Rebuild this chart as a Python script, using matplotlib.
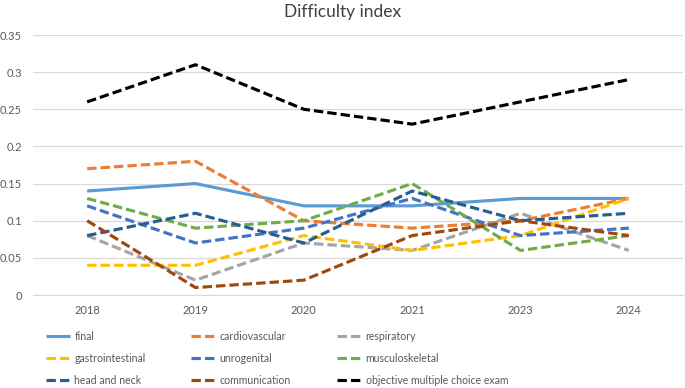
import matplotlib
matplotlib.use("Agg")
import matplotlib.pyplot as plt

years = ["2018", "2019", "2020", "2021", "2023", "2024"]
final = [0.14, 0.15, 0.12, 0.12, 0.13, 0.13]
cardiovascular = [0.17, 0.18, 0.10, 0.09, 0.10, 0.13]
respiratory = [0.08, 0.02, 0.07, 0.06, 0.11, 0.06]
gastrointestinal = [0.04, 0.04, 0.08, 0.06, 0.08, 0.13]
unrogenital = [0.12, 0.07, 0.09, 0.13, 0.08, 0.09]
musculoskeletal = [0.13, 0.09, 0.10, 0.15, 0.06, 0.08]
head_and_neck = [0.08, 0.11, 0.07, 0.14, 0.10, 0.11]
communication = [0.10, 0.01, 0.02, 0.08, 0.10, 0.08]
objective_mcq = [0.26, 0.31, 0.25, 0.23, 0.26, 0.29]

series = [
    ("final", final, "#5B9BD5", "solid"),
    ("cardiovascular", cardiovascular, "#ED7D31", "dash"),
    ("respiratory", respiratory, "#A5A5A5", "dash"),
    ("gastrointestinal", gastrointestinal, "#FFC000", "dash"),
    ("unrogenital", unrogenital, "#4472C4", "dash"),
    ("musculoskeletal", musculoskeletal, "#70AD47", "dash"),
    ("head and neck", head_and_neck, "#255E91", "dash"),
    ("communication", communication, "#9E480E", "dash"),
    ("objective multiple choice exam", objective_mcq, "#000000", "dash"),
]

plt.rcParams['font.family'] = ['Lato', 'DejaVu Sans']

fig = plt.figure(figsize=(6.85, 3.88), dpi=100)
ax = fig.add_axes([33/685, 1-295/388, 650/685, 260/388])

x = list(range(len(years)))
handles = []
for name, vals, col, style in series:
    if style == "solid":
        ln, = ax.plot(x, vals, color=col, lw=2.25, solid_capstyle='butt', label=name)
    else:
        ln, = ax.plot(x, vals, color=col, lw=2.25, dashes=(3, 1.3), dash_capstyle='butt', label=name)
    handles.append(ln)

ax.set_xlim(-0.5, len(years)-0.5)
ax.set_ylim(0, 0.35)
ax.set_yticks([0, 0.05, 0.1, 0.15, 0.2, 0.25, 0.3, 0.35])
ax.set_yticklabels(["0", "0.05", "0.1", "0.15", "0.2", "0.25", "0.3", "0.35"])
ax.set_xticks(x)
ax.set_xticklabels(years)
ax.grid(axis='y', color='#D9D9D9', lw=0.9)
ax.set_axisbelow(True)
for s in ['top', 'right', 'left']:
    ax.spines[s].set_visible(False)
ax.spines['bottom'].set_color('#D9D9D9')
ax.tick_params(axis='both', length=0, labelsize=8, colors='#595959')
ax.tick_params(axis='y', pad=8)
ax.tick_params(axis='x', pad=7)

fig.text(343/685, 1-12/388, "Difficulty index", ha='center', va='center', fontsize=12.5,
         color='#404040')

# three legend columns, entries laid out row-wise as in the reference
col_x = [46, 191, 337]
for c in range(3):
    idx = [c, c + 3, c + 6]
    leg = fig.legend([handles[i] for i in idx], [series[i][0] for i in idx],
                     ncol=1, loc='upper left', bbox_to_anchor=(col_x[c]/685, 1-331/388),
                     frameon=False, fontsize=7.6, handlelength=2.3, handletextpad=0.4,
                     labelspacing=1.05, borderpad=0, borderaxespad=0)
    for t in leg.get_texts():
        t.set_color('#595959')

fig.savefig("out.png", dpi=100)
